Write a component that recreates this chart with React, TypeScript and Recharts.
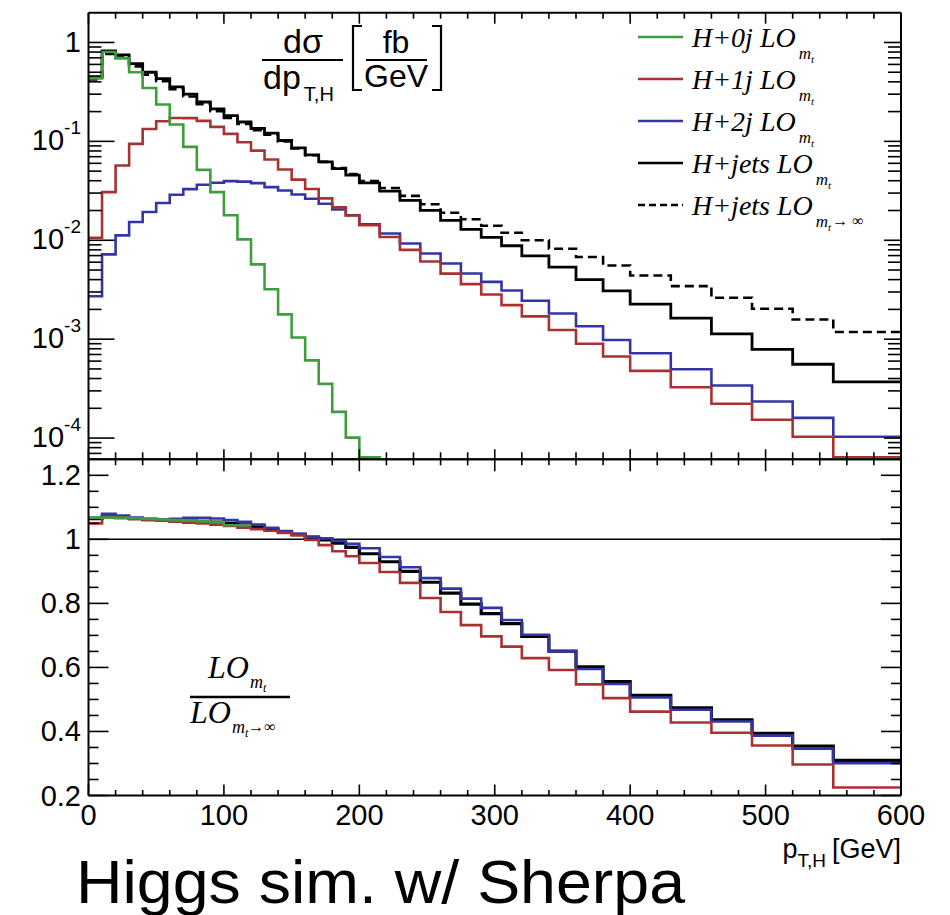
import React from 'react';
import { LineChart, Line, XAxis, YAxis, ReferenceLine } from 'recharts';

// ---------------- data ----------------
const binEdges = [0, 10, 20, 30, 40, 50, 60, 70, 80, 90, 100, 110, 120, 130, 140, 150, 160, 170, 180, 190, 200,
  215, 230, 245, 260, 275, 290, 305, 320, 340, 360, 380, 400, 430, 460, 490, 520, 550, 600];

const h0jSpectrum = [0.433, 0.80, 0.69, 0.50, 0.347, 0.236, 0.148, 0.088, 0.0515, 0.0307,
  0.0179, 0.0102, 0.0057, 0.0032, 0.00178, 0.00104, 0.00061, 0.000353, 0.000184, 0.000101,
  6.4e-5, 6.1e-5, 6.1e-5, 6.1e-5, 6.1e-5, 6.1e-5, 6.1e-5, 6.1e-5,
  6.1e-5, 6.1e-5, 6.1e-5, 6.1e-5,
  6.1e-5, 6.1e-5, 6.1e-5, 6.1e-5, 6.1e-5,
  6.1e-5];
const h1jSpectrum = [0.0106, 0.0307, 0.057, 0.0944, 0.1336, 0.1595, 0.1725, 0.172, 0.161, 0.14,
  0.119, 0.098, 0.0807, 0.0655, 0.052, 0.041, 0.033, 0.0265, 0.0215, 0.0178,
  0.0142, 0.0108, 0.008, 0.0061, 0.0046, 0.0036, 0.00283, 0.00221,
  0.0017, 0.00124, 0.0009, 0.000667,
  0.000478, 0.000327, 0.000222, 0.000153, 0.000103,
  6.4e-5];
const h2jSpectrum = [0.00272, 0.0072, 0.0112, 0.0153, 0.0193, 0.0238, 0.0289, 0.0329, 0.0364, 0.0382,
  0.0396, 0.0392, 0.0378, 0.0345, 0.0319, 0.029, 0.0263, 0.0234, 0.0205, 0.0179,
  0.0145, 0.0117, 0.00926, 0.00734, 0.00582, 0.00461, 0.0038, 0.00311,
  0.00245, 0.00182, 0.00135, 0.00098,
  0.00072, 0.000497, 0.00034, 0.000234, 0.00016,
  0.000103];
const hjetsSpectrum = [0.45, 0.82, 0.75, 0.61, 0.50, 0.43, 0.355, 0.30, 0.25, 0.213,
  0.182, 0.157, 0.135, 0.121, 0.102, 0.086, 0.073, 0.062, 0.053, 0.0455,
  0.038, 0.0314, 0.0253, 0.0201, 0.0159, 0.0129, 0.0107, 0.0088,
  0.00695, 0.00535, 0.004, 0.00308,
  0.00226, 0.00163, 0.00113, 0.00079, 0.000558,
  0.00037];
const hjetsInfSpectrum = [0.423, 0.766, 0.702, 0.573, 0.471, 0.406, 0.336, 0.284, 0.237, 0.202,
  0.173, 0.150, 0.130, 0.117, 0.0996, 0.0846, 0.0725, 0.0621, 0.0536, 0.0467,
  0.0398, 0.0338, 0.0281, 0.0231, 0.019, 0.0163, 0.014, 0.0119,
  0.01, 0.0082, 0.00677, 0.00556,
  0.0044, 0.00344, 0.00262, 0.00203, 0.00158,
  0.00118];

const h0jRatio: (number | null)[] = [1.068, 1.068, 1.067, 1.066, 1.064, 1.062, 1.06, 1.058, 1.056, 1.053,
  1.044, 1.044, null, null, null, null, null, null, null, null,
  null, null, null, null, null, null, null, null,
  null, null, null, null,
  null, null, null, null, null,
  null];
const h1jRatio = [1.05, 1.07, 1.068, 1.064, 1.06, 1.058, 1.055, 1.052, 1.05, 1.046,
  1.042, 1.036, 1.032, 1.027, 1.02, 1.012, 0.998, 0.982, 0.963, 0.947,
  0.926, 0.898, 0.864, 0.817, 0.773, 0.732, 0.697, 0.665,
  0.629, 0.592, 0.547, 0.504,
  0.462, 0.428, 0.396, 0.356, 0.297,
  0.225];
const h2jRatio = [1.067, 1.08, 1.074, 1.068, 1.064, 1.063, 1.064, 1.067, 1.067, 1.065,
  1.06, 1.055, 1.046, 1.036, 1.026, 1.017, 1.008, 1.003, 0.995, 0.986,
  0.972, 0.945, 0.913, 0.879, 0.846, 0.815, 0.786, 0.748,
  0.702, 0.65, 0.595, 0.548,
  0.506, 0.468, 0.431, 0.387, 0.346,
  0.301];
const hjetsRatio = [1.065, 1.07, 1.068, 1.065, 1.062, 1.06, 1.058, 1.057, 1.056, 1.054,
  1.05, 1.045, 1.04, 1.032, 1.024, 1.016, 1.007, 0.998, 0.988, 0.975,
  0.955, 0.93, 0.90, 0.866, 0.832, 0.798, 0.768, 0.737,
  0.697, 0.651, 0.602, 0.556,
  0.513, 0.474, 0.436, 0.394, 0.354,
  0.31];

const ptTicksMajor = [0, 100, 200, 300, 400, 500, 600];
const ptTickLabels = ['0', '100', '200', '300', '400', '500', '600'];
const logTicksMajor = [1e-4, 1e-3, 1e-2, 1e-1, 1];
const logTickLabels: [string, string][] = [['10', '-4'], ['10', '-3'], ['10', '-2'], ['10', '-1'], ['1', '']];
const ratioTicksMajor = [0.2, 0.4, 0.6, 0.8, 1, 1.2];
const ratioTickLabels = ['0.2', '0.4', '0.6', '0.8', '1', '1.2'];

const legendLabels = ['H+0j LO', 'H+1j LO', 'H+2j LO', 'H+jets LO', 'H+jets LO'];
const legendTails = ['', '', '', '', '\u2192 \u221E'];

const ptDomain: [number, number] = [0, 600];
const spectrumDomain: [number, number] = [6.1e-5, 2];
const ratioDomain: [number, number] = [0.2, 1.25];
const ratioReference = 1;

// ---------------- derived tick lists ----------------
const ptTicksAll = Array.from({ length: 31 }, (_, i) => i * 20);
const logTicksAll: number[] = [];
for (let e = -5; e <= 0; e++) {
  for (let k = 1; k <= 9; k++) {
    const v = k * Math.pow(10, e);
    if (v >= spectrumDomain[0] && v < spectrumDomain[1]) logTicksAll.push(v);
  }
}
const ratioTicksAll = Array.from({ length: 21 }, (_, i) => Math.round((0.2 + i * 0.05) * 100) / 100);

const stepValue = (arr: (number | null)[], i: number): number | null => {
  const v = i < arr.length ? arr[i] : null;
  if (v !== null && v !== undefined) return v;
  const p = i > 0 ? arr[i - 1] : null;
  return p === undefined ? null : p;
};

const spectrumRows = binEdges.map((pt, i) => ({
  pt,
  h0j: stepValue(h0jSpectrum, i),
  h1j: stepValue(h1jSpectrum, i),
  h2j: stepValue(h2jSpectrum, i),
  hjets: stepValue(hjetsSpectrum, i),
  hjetsInf: stepValue(hjetsInfSpectrum, i),
}));
const ratioRows = binEdges.map((pt, i) => ({
  pt,
  h0j: stepValue(h0jRatio, i),
  h1j: stepValue(h1jRatio, i),
  h2j: stepValue(h2jRatio, i),
  hjets: stepValue(hjetsRatio, i),
}));

// ---------------- layout / style ----------------
const W = 950;
const H = 915;
const PLOT_L = 88.5;
const PLOT_R = 901;
const TOP_T = 12.7;
const TOP_B = 459.3;
const BOT_T = 459.3;
const BOT_B = 795.5;
const Y_AXIS_W = 40;
const X_AXIS_TOP_H = 10;
const X_AXIS_BOT_H = 30;

const GREEN = '#3d9e3d';
const RED = '#a83232';
const BLUE = '#3434a6';
const BLACK = '#000000';
const SANS = '"Liberation Sans", Arial, Helvetica, sans-serif';
const SERIF = '"Liberation Serif", "Times New Roman", serif';
const axisLineStyle = { stroke: BLACK, strokeWidth: 2 };
const TICK_W = 1.6;

const findMajor = (majors: number[], v: number) =>
  majors.findIndex((m) => Math.abs(m - v) <= Math.abs(m) * 1e-6 + 1e-9);

type Side = 'left' | 'right' | 'top' | 'bottom';
function makeTick(
  side: Side,
  edge: number,
  majors: number[],
  majorLen: number,
  minorLen: number,
  label?: (idx: number, c: number) => React.ReactNode
) {
  return (props: any) => {
    const v = props.payload?.value;
    const idx = findMajor(majors, v);
    const len = idx >= 0 ? majorLen : minorLen;
    if (side === 'left' || side === 'right') {
      const c = props.payload?.coordinate ?? props.y;
      const x2 = side === 'left' ? edge + len : edge - len;
      return (
        <g>
          <line x1={edge} x2={x2} y1={c} y2={c} stroke={BLACK} strokeWidth={TICK_W} />
          {label && idx >= 0 ? label(idx, c) : null}
        </g>
      );
    }
    const c = props.payload?.coordinate ?? props.x;
    const y2 = side === 'bottom' ? edge - len : edge + len;
    return (
      <g>
        <line x1={c} x2={c} y1={edge} y2={y2} stroke={BLACK} strokeWidth={TICK_W} />
        {label && idx >= 0 ? label(idx, c) : null}
      </g>
    );
  };
}

const LABEL_RIGHT = 81;
const logLabel = (idx: number, c: number) => {
  const [base, exp] = logTickLabels[idx];
  if (!exp) {
    return (
      <text x={LABEL_RIGHT} y={c + 10} textAnchor="end" fontFamily={SANS} fontSize={29} fill={BLACK}>
        {base}
      </text>
    );
  }
  return (
    <text x={LABEL_RIGHT} y={c + 9} textAnchor="end" fontFamily={SANS} fontSize={29} fill={BLACK}>
      {base}
      <tspan fontSize={19} dy={-16}>{exp}</tspan>
    </text>
  );
};
const ratioLabel = (idx: number, c: number) => (
  <text x={LABEL_RIGHT} y={c + 10} textAnchor="end" fontFamily={SANS} fontSize={29} fill={BLACK}>
    {ratioTickLabels[idx]}
  </text>
);
const ptLabel = (idx: number, c: number) => (
  <text x={c} y={825} textAnchor="middle" fontFamily={SANS} fontSize={29} fill={BLACK}>
    {ptTickLabels[idx]}
  </text>
);

const lineCommon = {
  type: 'stepAfter' as const,
  dot: false,
  activeDot: false,
  isAnimationActive: false,
  xAxisId: 'b',
  yAxisId: 'l',
  connectNulls: false,
};

const legendColors = [GREEN, RED, BLUE, BLACK, BLACK];
const legendY = [37, 79, 121, 163, 205];

export default function App() {
  return (
    <div style={{ position: 'absolute', left: 0, top: 0, width: W, height: H, background: '#fff' }}>
      {/* ratio panel */}
      <div style={{ position: 'absolute', left: 0, top: 0 }}>
        <LineChart
          width={W}
          height={H}
          data={ratioRows}
          margin={{
            top: BOT_T - X_AXIS_TOP_H,
            right: W - PLOT_R - Y_AXIS_W,
            bottom: H - BOT_B - X_AXIS_BOT_H,
            left: PLOT_L - Y_AXIS_W,
          }}
        >
          <XAxis xAxisId="b" dataKey="pt" type="number" domain={ptDomain} allowDataOverflow ticks={ptTicksAll}
            interval={0} height={X_AXIS_BOT_H} tickLine={false} axisLine={axisLineStyle}
            tick={makeTick('bottom', BOT_B, ptTicksMajor, 11, 5.5, ptLabel)} />
          <XAxis xAxisId="t" orientation="top" dataKey="pt" type="number" domain={ptDomain} allowDataOverflow
            ticks={ptTicksAll} interval={0} height={X_AXIS_TOP_H} tickLine={false} axisLine={axisLineStyle}
            tick={makeTick('top', BOT_T, ptTicksMajor, 12, 6)} />
          <YAxis yAxisId="l" type="number" domain={ratioDomain} allowDataOverflow ticks={ratioTicksAll}
            interval={0} width={Y_AXIS_W} tickLine={false} axisLine={axisLineStyle}
            tick={makeTick('left', PLOT_L, ratioTicksMajor, 20, 10, ratioLabel)} />
          <YAxis yAxisId="r" orientation="right" type="number" domain={ratioDomain} allowDataOverflow
            ticks={ratioTicksAll} interval={0} width={Y_AXIS_W} tickLine={false} axisLine={axisLineStyle}
            tick={makeTick('right', PLOT_R, ratioTicksMajor, 20, 10)} />
          <ReferenceLine xAxisId="b" yAxisId="l" y={ratioReference} stroke={BLACK} strokeWidth={1.5} />
          <Line {...lineCommon} dataKey="hjets" stroke={BLACK} strokeWidth={3.2} />
          <Line {...lineCommon} dataKey="h2j" stroke={BLUE} strokeWidth={2.6} />
          <Line {...lineCommon} dataKey="h1j" stroke={RED} strokeWidth={2.6} />
          <Line {...lineCommon} dataKey="h0j" stroke={GREEN} strokeWidth={2.6} />
        </LineChart>
      </div>

      {/* spectrum panel */}
      <div style={{ position: 'absolute', left: 0, top: 0 }}>
        <LineChart
          width={W}
          height={H}
          data={spectrumRows}
          margin={{
            top: TOP_T - X_AXIS_TOP_H,
            right: W - PLOT_R - Y_AXIS_W,
            bottom: H - TOP_B - X_AXIS_BOT_H,
            left: PLOT_L - Y_AXIS_W,
          }}
        >
          <XAxis xAxisId="b" dataKey="pt" type="number" domain={ptDomain} allowDataOverflow ticks={ptTicksAll}
            interval={0} height={X_AXIS_BOT_H} tickLine={false} axisLine={axisLineStyle}
            tick={makeTick('bottom', TOP_B, ptTicksMajor, 10, 7)} />
          <XAxis xAxisId="t" orientation="top" dataKey="pt" type="number" domain={ptDomain} allowDataOverflow
            ticks={ptTicksAll} interval={0} height={X_AXIS_TOP_H} tickLine={false} axisLine={axisLineStyle}
            tick={makeTick('top', TOP_T, ptTicksMajor, 11, 6)} />
          <YAxis yAxisId="l" type="number" scale="log" domain={spectrumDomain} allowDataOverflow
            ticks={logTicksAll} interval={0} width={Y_AXIS_W} tickLine={false} axisLine={axisLineStyle}
            tick={makeTick('left', PLOT_L, logTicksMajor, 26, 13, logLabel)} />
          <YAxis yAxisId="r" orientation="right" type="number" scale="log" domain={spectrumDomain}
            allowDataOverflow ticks={logTicksAll} interval={0} width={Y_AXIS_W} tickLine={false}
            axisLine={axisLineStyle} tick={makeTick('right', PLOT_R, logTicksMajor, 17, 13)} />
          <Line {...lineCommon} dataKey="hjetsInf" stroke={BLACK} strokeWidth={2.6} strokeDasharray="9 5" />
          <Line {...lineCommon} dataKey="hjets" stroke={BLACK} strokeWidth={2.8} />
          <Line {...lineCommon} dataKey="h2j" stroke={BLUE} strokeWidth={2.6} />
          <Line {...lineCommon} dataKey="h1j" stroke={RED} strokeWidth={2.6} />
          <Line {...lineCommon} dataKey="h0j" stroke={GREEN} strokeWidth={2.6} />
        </LineChart>
      </div>

      {/* annotations */}
      <svg width={W} height={H} style={{ position: 'absolute', left: 0, top: 0, pointerEvents: 'none' }}>
        {/* y title of spectrum */}
        <text x={303} y={53} textAnchor="middle" fontFamily={SANS} fontSize={34} fill={BLACK}>d&#963;</text>
        <line x1={262} x2={343} y1={60} y2={60} stroke={BLACK} strokeWidth={2} />
        <text x={263} y={89} fontFamily={SANS} fontSize={34} fill={BLACK}>
          dp<tspan fontSize={20} dy={12} dx={3}>T,H</tspan>
        </text>
        <path d="M 362 26 H 353 V 90 H 362" fill="none" stroke={BLACK} strokeWidth={2.2} />
        <text x={396} y={53} textAnchor="middle" fontFamily={SANS} fontSize={32} fill={BLACK}>fb</text>
        <line x1={366} x2={427} y1={60} y2={60} stroke={BLACK} strokeWidth={2} />
        <text x={396} y={87} textAnchor="middle" fontFamily={SANS} fontSize={32} fill={BLACK}>GeV</text>
        <path d="M 432 26 H 441 V 90 H 432" fill="none" stroke={BLACK} strokeWidth={2.2} />

        {/* legend */}
        {legendLabels.map((lab, i) => (
          <g key={i}>
            <line x1={638} x2={683} y1={legendY[i]} y2={legendY[i]} stroke={legendColors[i]} strokeWidth={2.6}
              strokeDasharray={i === 4 ? '7 4' : undefined} />
            <text x={692} y={legendY[i] + 10} fontFamily={SERIF} fontStyle="italic" fontSize={28} fill={BLACK}>
              {lab}
              <tspan fontSize={17} dx={3} dy={12}>m</tspan>
              <tspan fontSize={11} dy={4}>t</tspan>
              {legendTails[i] ? <tspan fontSize={16} dy={-5} dx={1} fontStyle="normal">{legendTails[i]}</tspan> : null}
            </text>
          </g>
        ))}

        {/* ratio label */}
        <text x={208} y={678} fontFamily={SERIF} fontStyle="italic" fontSize={32} fill={BLACK}>
          LO<tspan fontSize={18} dy={10} dx={1}>m</tspan><tspan fontSize={12} dy={4}>t</tspan>
        </text>
        <line x1={190} x2={290} y1={697} y2={697} stroke={BLACK} strokeWidth={2.4} />
        <text x={190} y={723} fontFamily={SERIF} fontStyle="italic" fontSize={32} fill={BLACK}>
          LO<tspan fontSize={18} dy={10} dx={1}>m</tspan><tspan fontSize={12} dy={4}>t</tspan>
          <tspan fontSize={16} dy={-5} fontStyle="normal">{'\u2192\u221E'}</tspan>
        </text>

        {/* x title */}
        <text x={901} y={858} textAnchor="end" fontFamily={SANS} fontSize={27} fill={BLACK}>
          p<tspan fontSize={19} dy={9}>T,H</tspan>
          <tspan dy={-9} dx={6}>[GeV]</tspan>
        </text>

        {/* footer */}
        <text x={76} y={903} fontFamily={SANS} fontSize={61} textLength={609} lengthAdjust="spacingAndGlyphs" fill={BLACK}>
          Higgs sim. w/ Sherpa
        </text>
      </svg>
    </div>
  );
}
